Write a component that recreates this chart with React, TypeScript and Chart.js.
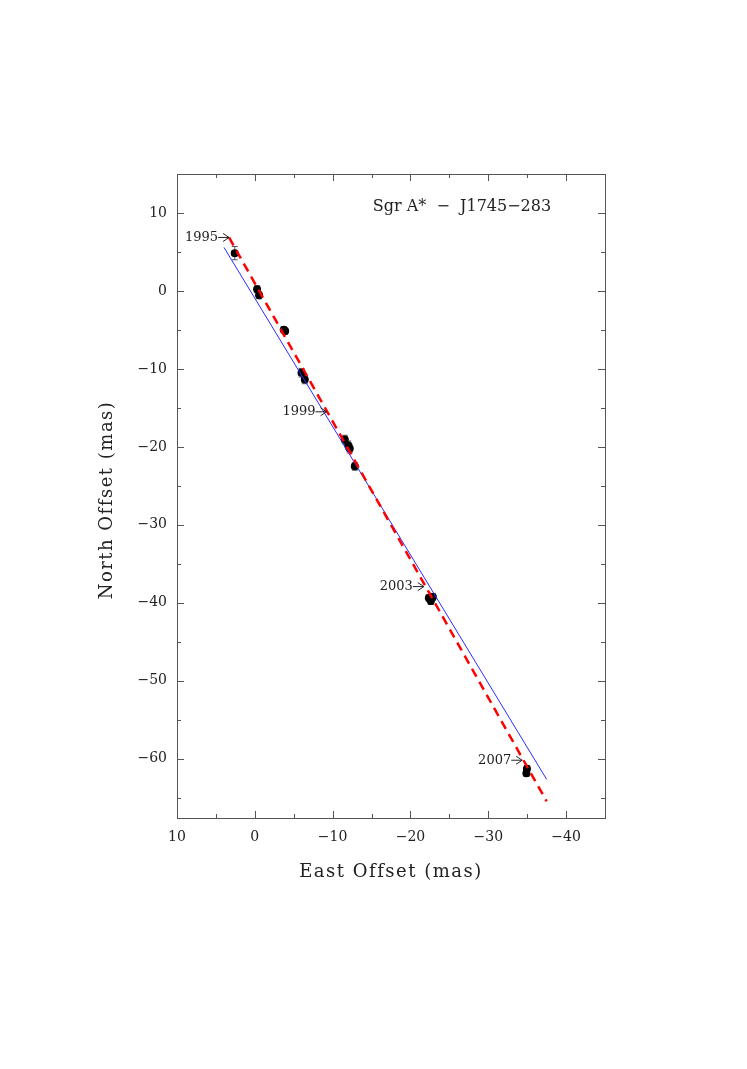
import React, { useEffect, useRef } from 'react';
import { Chart, registerables } from 'chart.js';

Chart.register(...registerables);

// Measured positions (mas)
const eastOffset = [2.58, -0.29, -0.55, -3.72, -3.9, -6.0, -6.42, -11.56, -11.99, -12.2, -12.85, -22.36, -22.88, -22.62, -34.97, -34.9];
const northOffset = [4.85, 0.22, -0.55, -4.98, -5.15, -10.49, -11.35, -19.06, -19.79, -20.22, -22.49, -39.37, -39.24, -39.76, -61.29, -61.86];
const northErr = [0.85, 0.45, 0.45, 0.4, 0.4, 0.55, 0.55, 0.55, 0.55, 0.55, 0.5, 0.45, 0.45, 0.45, 0.4, 0.4];
const eastErr = [0.35, 0.3, 0.3, 0.3, 0.3, 0.35, 0.35, 0.35, 0.35, 0.35, 0.35, 0.3, 0.3, 0.3, 0.3, 0.3];

// Blue solid line (endpoints)
const blueEast = [3.96, -37.5];
const blueNorth = [5.58, -62.64];

// Red dashed line (endpoints)
const redEast = [3.31, -37.5];
const redNorth = [6.86, -65.46];

// Epoch markers
const years = ['1995', '1999', '2003', '2007'];
const yearEast = [3.31, -9.21, -21.72, -34.36];
const yearNorth = [6.86, -15.5, -37.92, -60.19];

const xTickValues = [10, 0, -10, -20, -30, -40];
const yTickValues = [10, 0, -10, -20, -30, -40, -50, -60];

const W = 747;
const H = 1069;
const FONT = '"DejaVu Serif", serif';
const TEXT = '#222';

const fmt = (v: number) => (v < 0 ? '\u2212' + Math.abs(v) : String(v));

export default function App() {
  const ref = useRef<HTMLCanvasElement>(null);
  useEffect(() => {
    const canvas = ref.current!;
    const pts = eastOffset.map((x, i) => ({ x, y: northOffset[i] }));

    const deco = {
      id: 'deco',
      beforeDatasetsDraw(chart: any) {
        const { ctx, scales } = chart;
        const xs = scales.x, ys = scales.y;
        ctx.save();
        ctx.strokeStyle = '#555';
        ctx.lineWidth = 1;
        pts.forEach((p, i) => {
          const px = xs.getPixelForValue(p.x);
          const py = ys.getPixelForValue(p.y);
          const y1 = ys.getPixelForValue(p.y + northErr[i]);
          const y2 = ys.getPixelForValue(p.y - northErr[i]);
          const x1 = xs.getPixelForValue(p.x + eastErr[i]);
          const x2 = xs.getPixelForValue(p.x - eastErr[i]);
          ctx.beginPath();
          ctx.moveTo(px, y1); ctx.lineTo(px, y2);
          ctx.moveTo(px - 3, y1); ctx.lineTo(px + 3, y1);
          ctx.moveTo(px - 3, y2); ctx.lineTo(px + 3, y2);
          ctx.moveTo(x1, py); ctx.lineTo(x2, py);
          ctx.moveTo(x1, py - 3); ctx.lineTo(x1, py + 3);
          ctx.moveTo(x2, py - 3); ctx.lineTo(x2, py + 3);
          ctx.stroke();
        });
        ctx.restore();
      },
      afterDatasetsDraw(chart: any) {
        const { ctx, chartArea: a, scales } = chart;
        const xs = scales.x, ys = scales.y;
        ctx.save();
        // frame
        ctx.strokeStyle = '#555';
        ctx.lineWidth = 1;
        ctx.strokeRect(Math.round(a.left) + 0.5, Math.round(a.top) + 0.5, Math.round(a.right - a.left), Math.round(a.bottom - a.top));
        // ticks
        ctx.beginPath();
        for (let v = -45; v <= 10; v += 5) {
          const px = Math.round(xs.getPixelForValue(v)) + 0.5;
          const len = v % 10 === 0 ? 7 : 4;
          ctx.moveTo(px, a.bottom); ctx.lineTo(px, a.bottom - len);
          ctx.moveTo(px, a.top); ctx.lineTo(px, a.top + len);
        }
        for (let v = -65; v <= 15; v += 5) {
          const py = Math.round(ys.getPixelForValue(v)) + 0.5;
          const len = v % 10 === 0 ? 7 : 4;
          ctx.moveTo(a.left, py); ctx.lineTo(a.left + len, py);
          ctx.moveTo(a.right, py); ctx.lineTo(a.right - len, py);
        }
        ctx.stroke();

        // epoch labels and arrows
        ctx.fillStyle = TEXT;
        ctx.strokeStyle = TEXT;
        ctx.font = `13px ${FONT}`;
        ctx.textAlign = 'right';
        ctx.textBaseline = 'middle';
        years.forEach((yr, i) => {
          const tx = xs.getPixelForValue(yearEast[i]);
          const ty = ys.getPixelForValue(yearNorth[i]);
          ctx.fillText(yr, tx - 11, ty);
          ctx.beginPath();
          ctx.moveTo(tx - 11, ty); ctx.lineTo(tx, ty);
          ctx.moveTo(tx - 6, ty - 4); ctx.lineTo(tx, ty); ctx.lineTo(tx - 6, ty + 4);
          ctx.stroke();
        });

        // plot label
        ctx.textAlign = 'center';
        ctx.font = `16px ${FONT}`;
        ctx.fillText('Sgr A*  \u2212  J1745\u2212283', a.left + 285, a.top + 33);

        // axis titles
        ctx.font = `18px ${FONT}`;
        (ctx as any).letterSpacing = '1.5px';
        ctx.fillText('East Offset (mas)', (a.left + a.right) / 2, a.bottom + 54);
        ctx.save();
        ctx.translate(a.left - 70, (a.top + a.bottom) / 2 + 4);
        ctx.rotate(-Math.PI / 2);
        ctx.fillText('North Offset (mas)', 0, 0);
        ctx.restore();
        ctx.restore();
      },
    };

    const chart = new Chart(canvas, {
      type: 'scatter',
      data: {
        datasets: [
          {
            label: 'red',
            data: redEast.map((x, i) => ({ x, y: redNorth[i] })),
            showLine: true,
            borderColor: '#ff0000',
            borderWidth: 2.5,
            borderDash: [9, 6],
            pointRadius: 0,
            order: 1,
          },
          {
            label: 'blue',
            data: blueEast.map((x, i) => ({ x, y: blueNorth[i] })),
            showLine: true,
            borderColor: '#2b2bff',
            borderWidth: 1,
            pointRadius: 0,
            order: 2,
          },
          {
            label: 'pos',
            data: pts,
            backgroundColor: '#000',
            borderColor: '#000',
            pointRadius: 4,
            borderWidth: 0,
            order: 3,
          },
        ],
      },
      options: {
        responsive: false,
        animation: false,
        layout: { padding: { left: 0, top: 174, right: 142, bottom: 0 } },
        plugins: { legend: { display: false }, tooltip: { enabled: false } },
        scales: {
          x: {
            type: 'linear',
            min: -45,
            max: 10,
            reverse: true,
            grid: { display: false, drawTicks: false },
            border: { display: false },
            afterBuildTicks: (s: any) => { s.ticks = xTickValues.map((v) => ({ value: v })); },
            ticks: {
              autoSkip: false,
              maxRotation: 0,
              padding: 11,
              color: TEXT,
              font: { family: FONT, size: 14 },
              callback: (v: any) => fmt(Number(v)),
            },
            afterFit: (s: any) => { s.height = 251; },
          },
          y: {
            type: 'linear',
            min: -67.6,
            max: 15,
            grid: { display: false, drawTicks: false },
            border: { display: false },
            afterBuildTicks: (s: any) => { s.ticks = yTickValues.map((v) => ({ value: v })); },
            ticks: {
              autoSkip: false,
              padding: 10,
              color: TEXT,
              font: { family: FONT, size: 14 },
              callback: (v: any) => fmt(Number(v)),
            },
            afterFit: (s: any) => { s.width = 177; },
          },
        },
      },
      plugins: [deco],
    });
    return () => chart.destroy();
  }, []);
  return (
    <div style={{ position: 'absolute', left: 0, top: 0, width: W, height: H, background: '#fff' }}>
      <canvas ref={ref} width={W} height={H} style={{ width: W, height: H, display: 'block' }} />
    </div>
  );
}
